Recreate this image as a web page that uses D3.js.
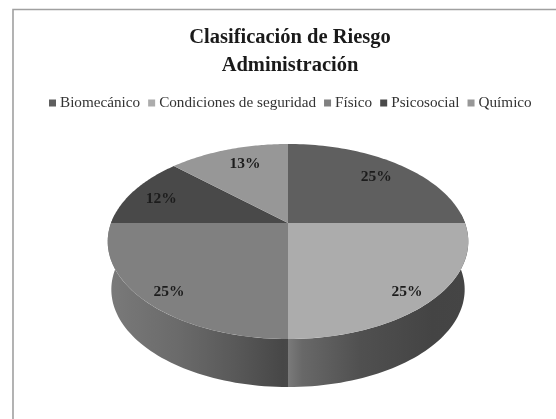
<!DOCTYPE html>
<html><head><meta charset="utf-8">
<script src="https://cdn.jsdelivr.net/npm/d3@7/dist/d3.min.js"></script>
<style>html,body{margin:0;padding:0;background:#fff}svg{display:block;filter:blur(.6px)}text{font-family:"Liberation Serif",serif}</style>
</head><body><svg width="556" height="419"></svg>
<script>
const categories = ["Biomecánico","Condiciones de seguridad","Físico","Psicosocial","Químico"];
const values = [25,25,25,12,13];
const labels = ["25%","25%","25%","12%","13%"];
const colors = ["#5f5f5f","#acacac","#808080","#494949","#979797"];
const titleLines = ["Clasificación de Riesgo","Administración"];

const svg = d3.select("svg");
const W=556,H=419;
svg.append("rect").attr("width",W).attr("height",H).attr("fill","#fff");
svg.append("path").attr("d",`M13 ${H}V9.5H${W}`).attr("fill","none").attr("stroke","#a0a0a0").attr("stroke-width",1.6);

// perspective projection of the pie plane
const cx=288, cy=223, A=177, B=94, k=0.19, depth=48;
const proj=(X,Y)=>[cx+A*X/(1-k*Y), cy+B*Y/(1-k*Y)];
const onRim=a=>proj(Math.sin(a),-Math.cos(a)); // a clockwise from 12 o'clock
const pie=d3.pie().sort(null).value(d=>d)(values);
const line=d3.line();
const sample=(a0,a1,n=60)=>d3.range(n+1).map(i=>a0+(a1-a0)*i/n);

const defs=svg.append("defs");
function grad(id,stops,x1,x2){
  const g=defs.append("linearGradient").attr("id",id).attr("gradientUnits","userSpaceOnUse")
    .attr("x1",x1).attr("x2",x2).attr("y1",0).attr("y2",0);
  stops.forEach(([o,c])=>g.append("stop").attr("offset",o).attr("stop-color",c));
}
grad("sideR",[[0,"#7a7a7a"],[.08,"#686868"],[.4,"#505050"],[.8,"#444444"],[1,"#454545"]],cx,cx+180);
grad("sideL",[[0,"#7a7a7a"],[.4,"#6a6a6a"],[.7,"#595959"],[.97,"#474747"],[1,"#484848"]],cx-180,cx);

// rim side walls for the two front slices
const bottom=p=>[p[0]-(p[0]-cx)*0.02,p[1]+depth];
function wall(a0,a1,fill){
  const top=sample(a0,a1).map(onRim);
  const bot=sample(a1,a0).map(a=>bottom(onRim(a)));
  svg.append("path").attr("d",line(top.concat(bot))+"Z").attr("fill",fill);
}
const wallStart=Math.PI*0.47;
wall(wallStart,pie[1].endAngle,"url(#sideR)");
wall(pie[2].startAngle,Math.PI*1.53,"url(#sideL)");

// top faces
pie.forEach((d,i)=>{
  const pts=[proj(0,0)].concat(sample(d.startAngle,d.endAngle).map(onRim));
  svg.append("path").attr("d",line(pts)+"Z").attr("fill",colors[i]);
});

// data labels
const labelRadius=[.78,.867,.867,.806,.777];
const labelShiftDeg=[0,2,-2,-1,2.5];
pie.forEach((d,i)=>{
  const a=(d.startAngle+d.endAngle)/2+labelShiftDeg[i]*Math.PI/180;
  const r=labelRadius[i];
  const p=proj(Math.sin(a)*r,-Math.cos(a)*r);
  svg.append("text").attr("x",p[0]).attr("y",p[1]).attr("dy","0.35em").attr("text-anchor","middle")
    .attr("font-size",15.5).attr("font-weight","bold").attr("fill","#1c1c1c").text(labels[i]);
});

// title
titleLines.forEach((t,i)=>svg.append("text").attr("x",290).attr("y",43+i*28).attr("text-anchor","middle")
  .attr("font-size",20.5).attr("font-weight","bold").attr("fill","#1a1a1a").text(t));

// legend
const lg=svg.append("g");
let x=49; const ly=103;
categories.forEach((c,i)=>{
  lg.append("rect").attr("x",x).attr("y",ly-3.5).attr("width",7).attr("height",7).attr("fill",colors[i]);
  const t=lg.append("text").attr("x",x+11).attr("y",ly+4).attr("font-size",15.2).attr("fill","#333").text(c);
  x+=11+t.node().getComputedTextLength()+8;
});
</script></body></html>
